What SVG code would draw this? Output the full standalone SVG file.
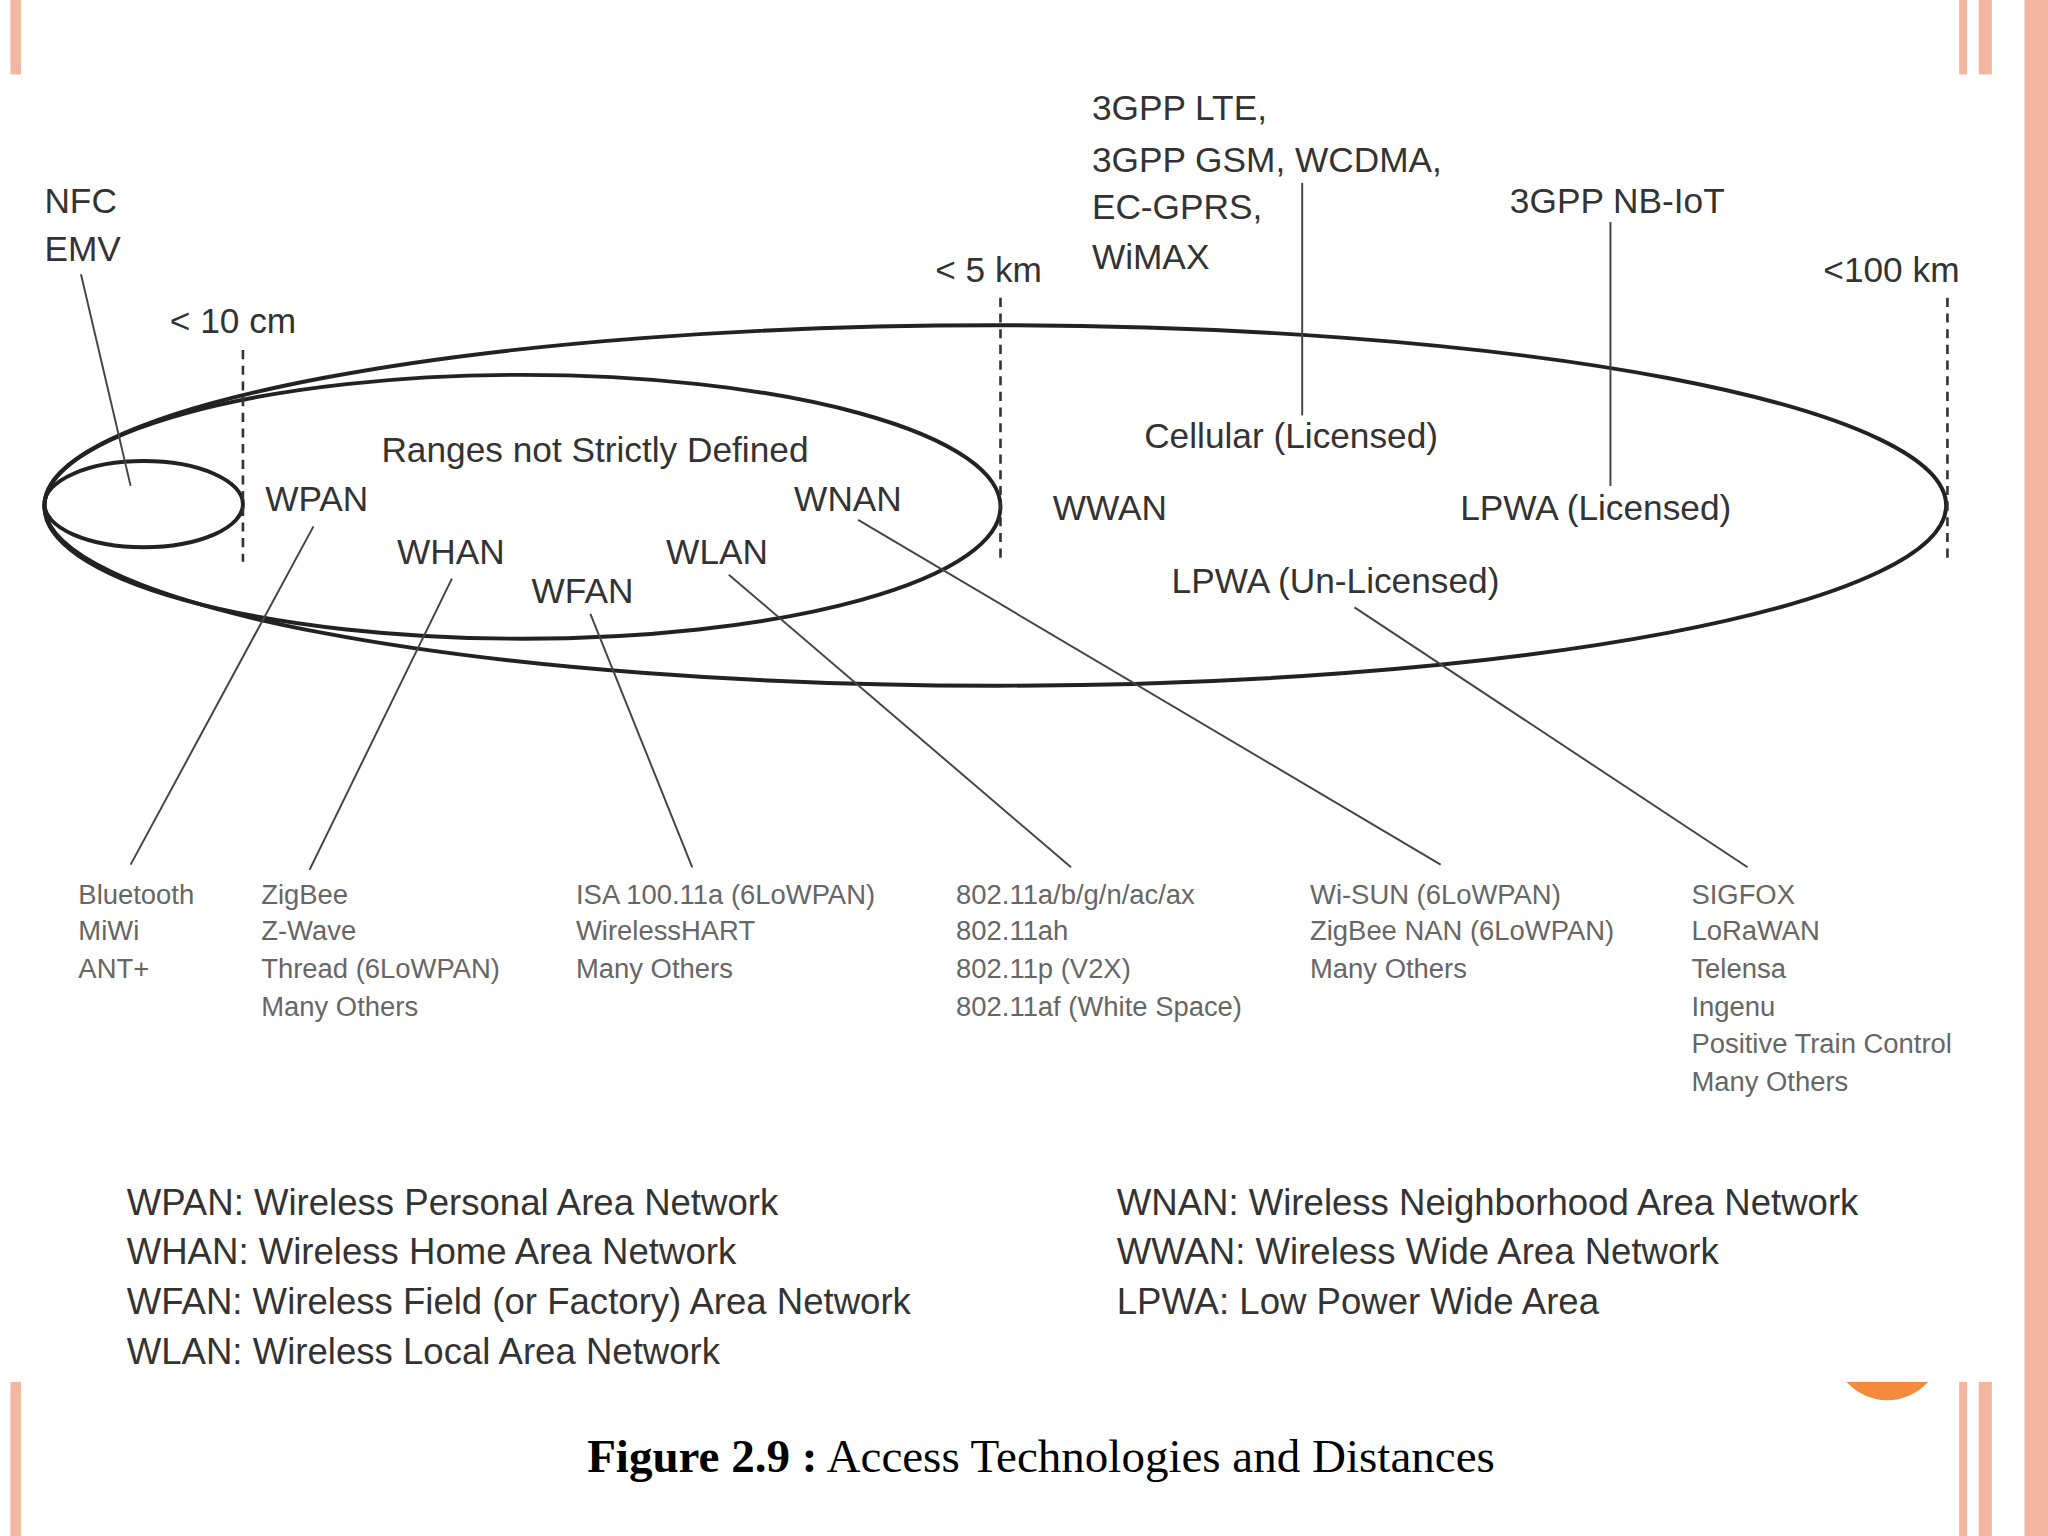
<svg xmlns="http://www.w3.org/2000/svg" width="2048" height="1536" viewBox="0 0 2048 1536">
<style>
.l{font-family:"Liberation Sans",Arial,sans-serif;font-size:27px;fill:#333}
.s{font-family:"Liberation Sans",Arial,sans-serif;font-size:21px;fill:#666}
.g{font-family:"Liberation Sans",Arial,sans-serif;font-size:28px;fill:#333}
.e{fill:none;stroke:#222;stroke-width:3}
.d{stroke:#333;stroke-width:2;stroke-dasharray:7 5}
.c{stroke:#444;stroke-width:1.5}
</style>
<rect width="2048" height="1536" fill="#fff"/>
<g transform="scale(1.30612)">
<rect x="8" y="0" width="8" height="1176" fill="#f4b6a0"/>
<rect x="1500" y="0" width="6" height="1176" fill="#f4b6a0"/>
<rect x="1515" y="0" width="10" height="1176" fill="#f4b6a0"/>
<rect x="1550" y="0" width="18" height="1176" fill="#f4b6a0"/>
<circle cx="1445" cy="1030" r="42" fill="#f58a3c"/>
<rect x="0" y="57" width="1542" height="1001" fill="#fff"/>
<g id="ellipses">
<ellipse class="e" cx="762" cy="387" rx="728" ry="138"/>
<ellipse class="e" cx="400" cy="388" rx="366" ry="101"/>
<ellipse class="e" cx="110" cy="386" rx="76" ry="33"/>
</g>
<g id="connectors">
<line class="d" x1="186" y1="268" x2="186" y2="430"/>
<line class="d" x1="766" y1="228" x2="766" y2="430"/>
<line class="d" x1="1491" y1="228" x2="1491" y2="430"/>
<line class="c" x1="62" y1="210" x2="100" y2="372"/>
<line class="c" x1="997" y1="140" x2="997" y2="318"/>
<line class="c" x1="1233" y1="170" x2="1233" y2="372"/>
<line class="c" x1="240" y1="403" x2="100" y2="662"/>
<line class="c" x1="346" y1="443" x2="237" y2="666"/>
<line class="c" x1="452" y1="470" x2="530" y2="664"/>
<line class="c" x1="558" y1="440" x2="820" y2="664"/>
<line class="c" x1="657" y1="398" x2="1103" y2="662"/>
<line class="c" x1="1037" y1="465" x2="1338" y2="664"/>
</g>
<g id="labels">
<text class="l" x="34" y="163">NFC</text><text class="l" x="34" y="200">EMV</text>
<text class="l" x="130" y="255">&lt; 10 cm</text>
<text class="l" x="716" y="216">&lt; 5 km</text>
<text class="l" x="1396" y="216">&lt;100 km</text>
<text class="l" x="836" y="92">3GPP LTE,</text>
<text class="l" x="836" y="132">3GPP GSM, WCDMA,</text>
<text class="l" x="836" y="168">EC-GPRS,</text>
<text class="l" x="836" y="206">WiMAX</text>
<text class="l" x="1156" y="163">3GPP NB-IoT</text>
<text class="l" x="876" y="343">Cellular (Licensed)</text>
<text class="l" x="806" y="398">WWAN</text>
<text class="l" x="1118" y="398">LPWA (Licensed)</text>
<text class="l" x="897" y="454">LPWA (Un-Licensed)</text>
<text class="l" x="292" y="354">Ranges not Strictly Defined</text>
<text class="l" x="203" y="391">WPAN</text>
<text class="l" x="608" y="391">WNAN</text>
<text class="l" x="304" y="432">WHAN</text>
<text class="l" x="510" y="432">WLAN</text>
<text class="l" x="407" y="462">WFAN</text>
</g>
<g id="lists">
<text class="s" x="60" y="692">Bluetooth</text><text class="s" x="60" y="720">MiWi</text><text class="s" x="60" y="749">ANT+</text>
<text class="s" x="200" y="692">ZigBee</text><text class="s" x="200" y="720">Z-Wave</text><text class="s" x="200" y="749">Thread (6LoWPAN)</text><text class="s" x="200" y="778">Many Others</text>
<text class="s" x="441" y="692">ISA 100.11a (6LoWPAN)</text><text class="s" x="441" y="720">WirelessHART</text><text class="s" x="441" y="749">Many Others</text>
<text class="s" x="732" y="692">802.11a/b/g/n/ac/ax</text><text class="s" x="732" y="720">802.11ah</text><text class="s" x="732" y="749">802.11p (V2X)</text><text class="s" x="732" y="778">802.11af (White Space)</text>
<text class="s" x="1003" y="692">Wi-SUN (6LoWPAN)</text><text class="s" x="1003" y="720">ZigBee NAN (6LoWPAN)</text><text class="s" x="1003" y="749">Many Others</text>
<text class="s" x="1295" y="692">SIGFOX</text><text class="s" x="1295" y="720">LoRaWAN</text><text class="s" x="1295" y="749">Telensa</text><text class="s" x="1295" y="778">Ingenu</text><text class="s" x="1295" y="806">Positive Train Control</text><text class="s" x="1295" y="835">Many Others</text>
</g>
<g id="legend">
<text class="g" x="97" y="930">WPAN: Wireless Personal Area Network</text>
<text class="g" x="97" y="968">WHAN: Wireless Home Area Network</text>
<text class="g" x="97" y="1006">WFAN: Wireless Field (or Factory) Area Network</text>
<text class="g" x="97" y="1044">WLAN: Wireless Local Area Network</text>
<text class="g" x="855" y="930">WNAN: Wireless Neighborhood Area Network</text>
<text class="g" x="855" y="968">WWAN: Wireless Wide Area Network</text>
<text class="g" x="855" y="1006">LPWA: Low Power Wide Area</text>
</g>
<text x="797" y="1127" text-anchor="middle" font-family="Liberation Serif,Times New Roman,serif" font-size="36" fill="#000"><tspan font-weight="bold">Figure 2.9 :</tspan> Access Technologies and Distances</text>
</g>
</svg>
